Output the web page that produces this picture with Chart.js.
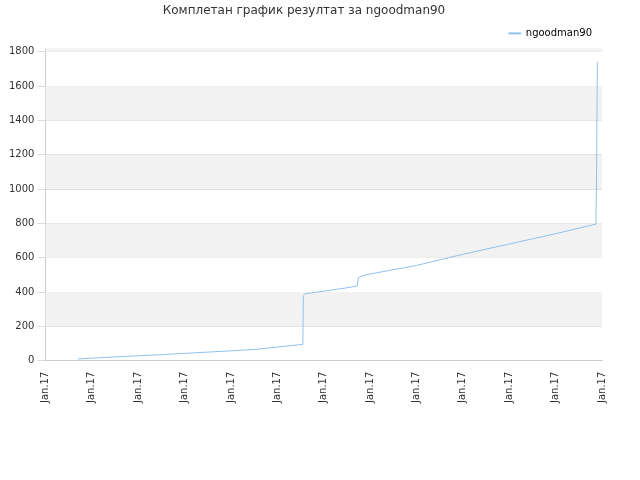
<!DOCTYPE html>
<html><head><meta charset="utf-8">
<script src="https://cdn.jsdelivr.net/npm/chart.js@4"></script>
<style>body{margin:0;background:#fff}#wrap{width:640px;height:480px}</style>
</head><body><div id="wrap"><canvas id="c"></canvas></div>
<script>
// x in tick units (0..12), each tick labelled "Jan.17"
const xs = [0.7, 1.5, 2.5, 3.5, 4.5, 5.55, 5.56, 5.6, 6.0, 6.5, 6.72, 6.75, 6.9, 8.0, 9.0, 10.0, 11.0, 11.85, 11.87, 11.88, 11.9];
const ys = [10, 22, 35, 50, 65, 95, 380, 390, 405, 425, 435, 485, 500, 555, 620, 680, 740, 795, 850, 1000, 1740];
const yTicks = [0, 200, 400, 600, 800, 1000, 1200, 1400, 1600, 1800];
const tickLabel = "Jan.17";
const seriesName = "ngoodman90";

const bands = {
    id: "bands",
    beforeDatasetsDraw(chart) {
        const {ctx, chartArea: a, scales: {y}} = chart;
        ctx.save();
        ctx.fillStyle = "#f2f2f2";
        for (let v = 200; v < 1820; v += 400) {
            const top = y.getPixelForValue(Math.min(v + 200, 1820)), bot = y.getPixelForValue(v);
            ctx.fillRect(a.left, top, a.right - a.left, bot - top);
        }
        ctx.restore();
    }
};

new Chart("c", {
    type: "line",
    data: {
        datasets: [{
            label: seriesName,
            data: xs.map((x, i) => ({x: x, y: ys[i]})),
            borderColor: "#90c0f0",
            backgroundColor: "#90c0f0",
            borderWidth: 1,
            pointRadius: 0,
            tension: 0,
        }],
    },
    options: {
        responsive: true,
        maintainAspectRatio: false,
        animation: false,
        layout: {padding: {left: 6, right: 38, bottom: 74}},
        scales: {
            x: {
                type: "linear", min: 0, max: 12,
                ticks: {stepSize: 1, maxRotation: 90, minRotation: 90, callback: () => tickLabel,
                    font: {family: "DejaVu Sans", size: 10}, color: "#333"},
                grid: {display: false},
                border: {color: "#ccc"},
            },
            y: {
                min: 0, max: 1820,
                afterBuildTicks: axis => { axis.ticks = yTicks.map(v => ({value: v})); },
                ticks: {font: {family: "DejaVu Sans", size: 10}, color: "#333", callback: v => String(v)},
                grid: {color: "#ddd"},
                border: {color: "#ccc"},
            },
        },
        plugins: {
            title: {display: true, text: "Комплетан график резултат за ngoodman90",
                font: {family: "DejaVu Sans", size: 12, weight: "normal"}, color: "#333", padding: {top: 4, bottom: 0}},
            legend: {position: "top", align: "end",
                labels: {boxWidth: 12, boxHeight: 1, font: {family: "DejaVu Sans", size: 10}, color: "#000"}},
        },
    },
    plugins: [bands],
});
</script></body></html>
